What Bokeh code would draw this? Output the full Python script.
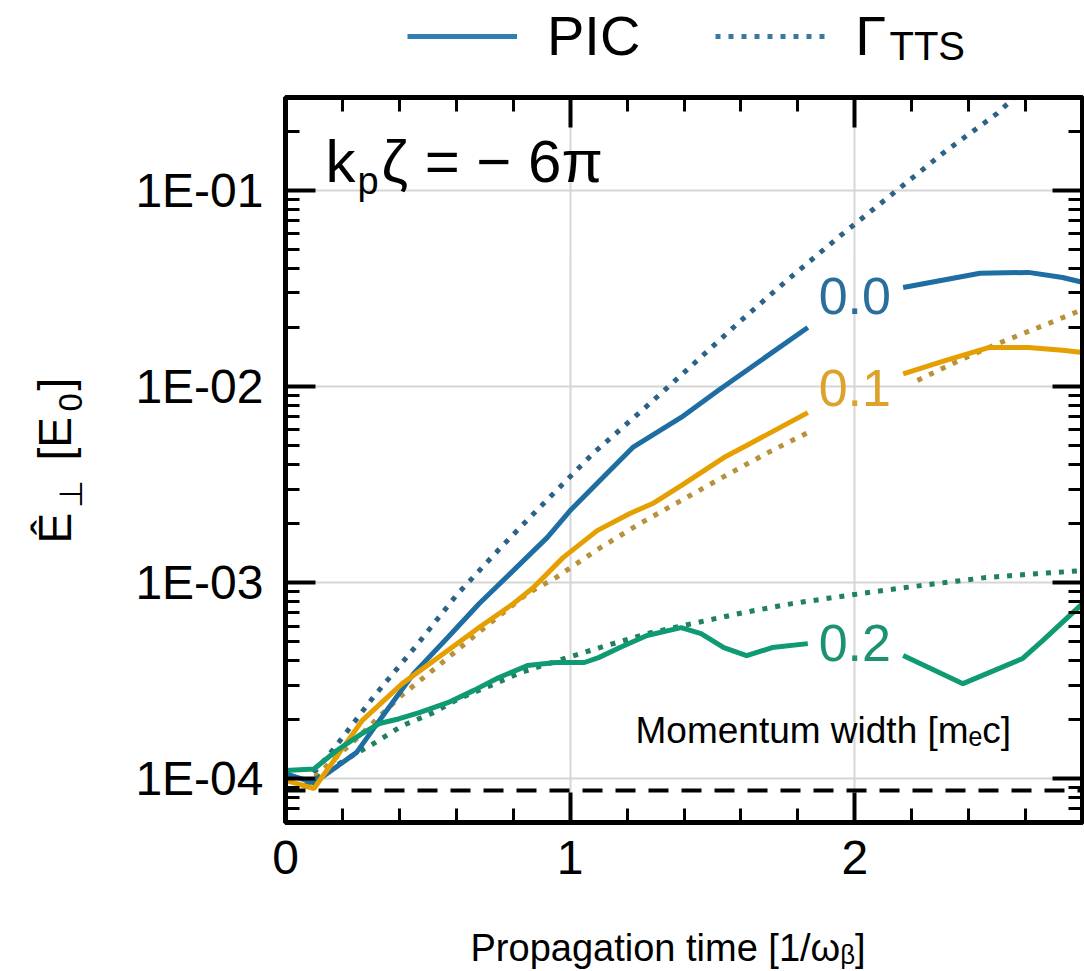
import math
from bokeh.plotting import figure
from bokeh.layouts import column, row
from bokeh.models import (LinearAxis, LogAxis, FixedTicker, Range1d, Span, Label,
                          Legend, LegendItem, CustomJSTickFormatter)
from bokeh.embed import file_html
from bokeh.resources import INLINE

nan = float("nan")

# ---- data: normalised transverse field vs propagation time [1/omega_beta] ----
# PIC, momentum width 0.0 m_e c (gap left for the inline label)
pic_00_t = [0, 0.1, 0.25, 0.33, 0.45, 0.57, 0.68, 0.8, 0.92, 1.0, 1.15, 1.22, 1.39, 1.52, 1.835,
            nan, 2.17, 2.44, 2.61, 2.73, 2.8]
pic_00_E = [1.06e-4, 9.5e-5, 1.36e-4, 1.98e-4, 3.43e-4, 5.24e-4, 7.8e-4, 1.15e-3, 1.7e-3, 2.33e-3,
            3.86e-3, 4.89e-3, 6.95e-3, 9.55e-3, 2.0e-2,
            nan, 0.032, 0.0378, 0.0382, 0.036, 0.034]

# PIC, momentum width 0.1 m_e c
pic_01_t = [0, 0.1, 0.27, 0.41, 0.57, 0.68, 0.8, 0.87, 0.975, 1.095, 1.21, 1.29, 1.39, 1.54, 1.62, 1.835,
            nan, 2.17, 2.32, 2.47, 2.61, 2.73, 2.8]
pic_01_E = [9.8e-5, 8.9e-5, 1.98e-4, 3.05e-4, 4.5e-4, 5.9e-4, 7.8e-4, 9.4e-4, 1.34e-3, 1.84e-3,
            2.25e-3, 2.53e-3, 3.12e-3, 4.34e-3, 5.0e-3, 7.36e-3,
            nan, 0.0116, 0.0136, 0.0158, 0.0158, 0.0153, 0.0149]

# PIC, momentum width 0.2 m_e c
pic_02_t = [0, 0.1, 0.18, 0.27, 0.33, 0.4, 0.47, 0.57, 0.66, 0.75, 0.85, 0.95, 1.05, 1.1, 1.175, 1.27,
            1.39, 1.46, 1.54, 1.62, 1.71, 1.835,
            nan, 2.17, 2.38, 2.59, 2.66, 2.8]
pic_02_E = [1.1e-4, 1.12e-4, 1.39e-4, 1.7e-4, 1.91e-4, 2.02e-4, 2.17e-4, 2.44e-4, 2.81e-4, 3.28e-4,
            3.77e-4, 3.91e-4, 3.91e-4, 4.14e-4, 4.66e-4, 5.37e-4,
            5.89e-4, 5.49e-4, 4.66e-4, 4.24e-4, 4.66e-4, 4.88e-4,
            nan, 4.24e-4, 3.05e-4, 4.1e-4, 5.06e-4, 7.8e-4]

# Gamma_TTS growth-rate predictions
tts_00_t = [0.07, 0.17, 0.31, 0.46, 0.6, 0.76, 0.92, 1.08, 1.26, 1.43, 1.6, 1.77, 1.95, 2.13, 2.31, 2.5, 2.56]
tts_00_E = [9.5e-5, 1.42e-4, 2.62e-4, 4.77e-4, 8.6e-4, 1.53e-3, 2.65e-3, 4.55e-3, 7.72e-3, 1.29e-2,
            2.17e-2, 3.56e-2, 5.89e-2, 9.54e-2, 0.155, 0.247, 0.298]

tts_01_t = [0.07, 0.25, 0.4, 0.55, 0.7, 0.85, 0.95, 1.095, 1.24, 1.39, 1.54, 1.695, 1.85,
            nan, 2.22, 2.375, 2.53, 2.69, 2.8]
tts_01_E = [9.2e-5, 1.6e-4, 2.6e-4, 3.9e-4, 5.9e-4, 8.8e-4, 1.06e-3, 1.47e-3, 1.98e-3, 2.62e-3,
            3.47e-3, 4.6e-3, 5.97e-3,
            nan, 1.074e-2, 1.375e-2, 1.718e-2, 2.123e-2, 0.0247]

tts_02_t = [0.07, 0.2, 0.31, 0.41, 0.52, 0.61, 0.72, 0.825, 0.99, 1.105, 1.27, 1.43, 1.61, 1.78,
            1.95, 2.12, 2.29, 2.46, 2.64, 2.8]
tts_02_E = [9.2e-5, 1.22e-4, 1.51e-4, 1.86e-4, 2.17e-4, 2.56e-4, 2.98e-4, 3.47e-4, 4.14e-4, 4.66e-4,
            5.49e-4, 6.18e-4, 7.03e-4, 7.81e-4, 8.49e-4, 9.2e-4, 9.89e-4, 1.06e-3, 1.11e-3, 1.15e-3]

noise_level = 8.7e-5

# inline labels naming each momentum width
width_labels = ["0.0", "0.1", "0.2"]
width_label_t = [2.0, 2.0, 2.0]
width_label_E = [0.0288, 0.0098, 4.9e-4]

# axis ticks
xtick_values = [0, 1, 2]
ytick_values = [1e-4, 1e-3, 1e-2, 1e-1]
ytick_labels = ["1E-04", "1E-03", "1E-02", "1E-01"]

FONT = "Liberation Sans"
BLUE, ORANGE, GREEN = "#1f6ea3", "#e69f00", "#0e9a72"
BLUE_DOT, ORANGE_DOT, GREEN_DOT = "#2c6286", "#b8913c", "#21805f"
SOLID = dict(line_width=5)
DOTTED = dict(line_width=5, line_dash="5 8", line_cap="butt")

TOP_H, MAIN_H, BOTTOM_H = 92, 808, 71
LEFT_W, MAIN_W = 100, 984


def blank_figure(w, h, y_range=(0, 1)):
    f = figure(width=w, height=h, x_range=Range1d(0, 1), y_range=Range1d(*y_range),
               x_axis_type=None, y_axis_type=None, output_backend="svg", toolbar_location=None,
               min_border=0)
    f.outline_line_color = None
    f.grid.visible = False
    return f


def screen_label(f, x, y, text, size, **kw):
    f.add_layout(Label(x=x, y=y, x_units="screen", y_units="screen", text=text,
                       text_font=FONT, text_font_size=size, text_color="black",
                       text_baseline="middle", **kw))


# ---- main panel ----
p = figure(width=MAIN_W, height=MAIN_H, y_axis_type="log",
           x_range=Range1d(0, 2.8), y_range=Range1d(5.97e-5, 0.298),
           output_backend="svg", toolbar_location=None,
           min_border_left=185, min_border_right=2, min_border_top=5, min_border_bottom=78)
p.background_fill_color = "white"
p.border_fill_color = "white"
p.outline_line_color = "black"
p.outline_line_width = 5

x_minor = [0.2 * i for i in range(15)]
y_minor = [m * 10.0 ** e for e in range(-5, 0) for m in range(2, 10)]


def style_axis(ax):
    ax.axis_line_color = "black"
    ax.axis_line_width = 5
    ax.major_tick_in = 30
    ax.major_tick_out = 0
    ax.minor_tick_in = 14
    ax.minor_tick_out = 0
    ax.major_tick_line_width = 4
    ax.minor_tick_line_width = 3
    ax.major_tick_line_color = "black"
    ax.minor_tick_line_color = "black"
    ax.major_label_text_font = FONT
    ax.major_label_text_color = "black"


xax = p.xaxis[0]
xax.ticker = FixedTicker(ticks=xtick_values, minor_ticks=x_minor)
style_axis(xax)
xax.major_label_text_font_size = "48px"
xax.major_label_standoff = 18

yax = p.yaxis[0]
yax.ticker = FixedTicker(ticks=ytick_values, minor_ticks=y_minor)
yax.major_label_overrides = dict(zip(ytick_values, ytick_labels))
style_axis(yax)
yax.major_label_text_font_size = "48px"
yax.major_label_standoff = 22

# mirrored tick marks on the top and right edges
blank = CustomJSTickFormatter(code="return ''")
top = LinearAxis(ticker=FixedTicker(ticks=xtick_values, minor_ticks=x_minor), formatter=blank,
                 major_label_standoff=0, major_label_text_font_size="1px")
right = LogAxis(ticker=FixedTicker(ticks=ytick_values, minor_ticks=y_minor), formatter=blank,
                major_label_standoff=0, major_label_text_font_size="1px")
style_axis(top)
style_axis(right)
p.add_layout(top, "above")
p.add_layout(right, "right")

for g in (p.xgrid[0], p.ygrid[0]):
    g.grid_line_color = "#d6d6d6"
    g.grid_line_width = 2
p.xgrid[0].ticker = FixedTicker(ticks=xtick_values)
p.ygrid[0].ticker = FixedTicker(ticks=ytick_values)

# initial noise level
p.add_layout(Span(location=noise_level, dimension="width", line_color="black",
                  line_width=4, line_dash="20 13"))

p.line(tts_00_t, tts_00_E, line_color=BLUE_DOT, **DOTTED)
p.line(tts_01_t, tts_01_E, line_color=ORANGE_DOT, **DOTTED)
p.line(tts_02_t, tts_02_E, line_color=GREEN_DOT, **DOTTED)

p.line(pic_00_t, pic_00_E, line_color=BLUE, **SOLID)
p.line(pic_01_t, pic_01_E, line_color=ORANGE, **SOLID)
p.line(pic_02_t, pic_02_E, line_color=GREEN, **SOLID)

for lab, t, e, c in zip(width_labels, width_label_t, width_label_E, ["#2a6e9c", "#dca22a", "#1c9272"]):
    p.add_layout(Label(x=t, y=e, text=lab, text_align="center", text_baseline="middle",
                       text_font=FONT, text_font_size="52px", text_color=c))

# wake phase annotation
screen_label(p, 40, 661, "k", "60px")
screen_label(p, 72, 642, "p", "38px")
screen_label(p, 96, 661, "ζ = − 6π", "60px")

screen_label(p, 350, 92, "Momentum width [mₑc]", "37px")

# ---- legend strip: keys reuse the 0.0 series, whose values lie below this strip's range ----
top_fig = blank_figure(LEFT_W + MAIN_W, TOP_H, y_range=(1, 2))
key_pic = top_fig.line(pic_00_t, pic_00_E, line_color="#2f7fb0", **SOLID)
key_tts = top_fig.line(tts_00_t, tts_00_E, line_color="#3b78a0", **DOTTED)
legend = Legend(items=[LegendItem(label="PIC", renderers=[key_pic]),
                       LegendItem(label="Γ", renderers=[key_tts])],
                orientation="horizontal", location=(407, 24),
                glyph_width=110, glyph_height=40, label_standoff=30, spacing=75,
                label_text_font=FONT, label_text_font_size="56px", label_text_color="black",
                border_line_color=None, background_fill_alpha=0, padding=0, margin=0)
top_fig.add_layout(legend)
screen_label(top_fig, 889, 47, "TTS", "40px")

# ---- y axis title, read bottom to top ----
left_fig = blank_figure(LEFT_W, MAIN_H)
rot = math.pi / 2
screen_label(left_fig, 54, 279, "Ê", "46px", angle=rot)
screen_label(left_fig, 70, 315, "⊥", "32px", angle=rot)
screen_label(left_fig, 54, 362, "[E", "46px", angle=rot)
screen_label(left_fig, 70, 411, "0", "33px", angle=rot)
screen_label(left_fig, 54, 432, "]", "46px", angle=rot)

# ---- x axis title ----
bottom_fig = blank_figure(LEFT_W + MAIN_W, BOTTOM_H)
screen_label(bottom_fig, 470, 24, "Propagation time [1/ωᵦ]", "38px")

layout = column(top_fig, row(left_fig, p, spacing=0), bottom_fig, spacing=0)
open("out.html", "w").write(file_html(layout, INLINE))
